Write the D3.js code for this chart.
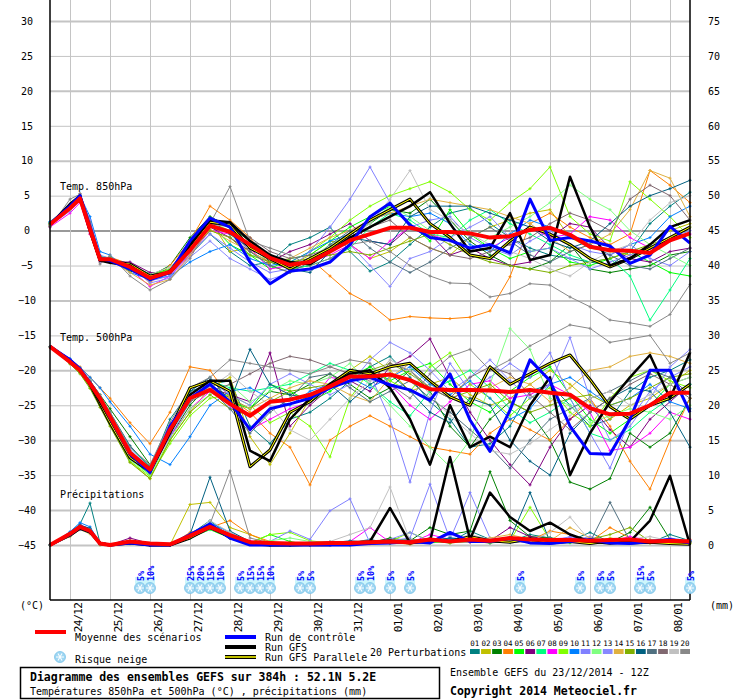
<!DOCTYPE html>
<html>
<head>
<meta charset="utf-8">
<script src="https://cdn.jsdelivr.net/npm/d3@7"></script>
<style>
body { margin: 0; background: #fff; }
svg text { font-family: "DejaVu Sans Mono", monospace; fill: #000; }
</style>
</head>
<body>
<div id="chart"></div>
<script>
// forecast hours from 23/12/2014 12Z
var hours = [0, 12, 18, 24, 30, 36, 48, 60, 72, 84, 96, 108, 120, 132, 144, 156, 168, 180, 192, 204,
    216, 228, 240, 252, 264, 276, 288, 300, 312, 324, 336, 348, 360, 372, 384];
var dayHours = [12, 36, 60, 84, 108, 132, 156, 180, 204, 228, 252, 276, 300, 324, 348, 372];
var dateLabels = ["24/12", "25/12", "26/12", "27/12", "28/12", "29/12", "30/12", "31/12",
    "01/01", "02/01", "03/01", "04/01", "05/01", "06/01", "07/01", "08/01"];
var tempTicks = [30, 25, 20, 15, 10, 5, 0, -5, -10, -15, -20, -25, -30, -35, -40, -45];
var precipTicks = [75, 70, 65, 60, 55, 50, 45, 40, 35, 30, 25, 20, 15, 10, 5, 0];

var pertIds = ["01", "02", "03", "04", "05", "06", "07", "08", "09", "10",
    "11", "12", "13", "14", "15", "16", "17", "18", "19", "20"];
var pertColors = ["#008080", "#c0c000", "#008000", "#ff8000", "#00ff00", "#800080", "#00ff80", "#ff00ff", "#80ff00", "#0080ff",
    "#8080ff", "#80ff80", "#8888ff", "#e0b040", "#80b000", "#006080", "#507080", "#806870", "#c0c0c0", "#888888"];

var mean850 = [0.9, 3.2, 4.6, 0.2, -4.1, -4.1, -5.2, -6.8, -5.9, -2.8, 0.7, -0.2, -2.0, -3.9, -4.9, -4.5, -3.0, -1.4, -0.5, 0.4, 0.4, -0.2, -0.2, -0.4, -1.0, -0.8, 0.1, 0.4, -0.6, -2.3, -2.8, -2.9, -3.2, -1.4, -0.4];
var control850 = [0.9, 3.5, 5.0, 0.5, -4.0, -4.3, -5.5, -7.0, -6.0, -1.5, 1.8, 0.5, -4.5, -7.6, -5.8, -5.5, -4.5, -2.0, 2.0, 3.9, 0.8, -1.0, -1.4, -2.5, -2.0, -3.2, 4.5, -1.4, -1.0, -1.5, -2.2, -4.7, -3.5, 0.6, -1.8];
var gfs850 = [0.9, 3.8, 5.0, 0.0, -4.3, -4.6, -5.0, -7.0, -5.8, -2.0, 1.5, 1.2, -1.5, -3.5, -4.5, -4.8, -3.0, -1.0, 0.5, 2.0, 3.5, 5.5, 1.0, -3.0, -2.5, 2.5, -4.2, -3.5, 7.7, 0.5, -5.0, -4.0, -2.0, 0.5, 1.5];
var gfsPar850 = [0.9, 3.5, 4.8, 0.0, -4.2, -4.4, -4.8, -6.5, -6.0, -2.5, 1.2, 0.8, -2.5, -4.0, -5.5, -4.0, -2.5, -0.5, 1.5, 3.0, 4.5, 1.0, -1.0, -3.5, -4.0, -1.5, 0.5, -0.5, -2.0, -4.0, -5.2, -4.0, -2.5, -1.0, 0.5];
var pert850 = [
    [1.2, 3.0, 4.8, 1.0, -3.8, -4.0, -5.5, -7.2, -6.0, -3.5, -0.5, -3.0, -5.0, -4.5, -2.0, -1.0, 0.5, -3.0, -5.8, -4.5, -2.0, 0.5, 2.5, 3.2, 1.0, -1.0, -2.5, -3.5, -4.0, -4.5, -5.0, -3.0, 1.0, 3.5, 5.5],
    [0.8, 3.5, 4.5, 0.5, -4.3, -4.0, -5.0, -6.5, -5.5, -2.0, 1.5, -3.0, -2.5, -4.0, -5.0, -3.5, -1.5, -2.0, -4.0, -3.0, -1.0, -2.5, -3.5, -1.0, 0.5, 1.5, 2.5, 3.0, -1.0, -2.5, -3.0, -3.5, -2.0, 0.0, 1.0],
    [0.7, 3.0, 4.5, 0.0, -4.0, -4.2, -5.8, -6.5, -5.0, -1.0, 2.0, 0.5, -1.5, -4.5, -5.5, -5.0, -2.5, -0.5, 1.0, 3.0, 2.5, 4.5, 1.5, -1.5, -3.5, -5.0, -5.5, -4.5, -2.0, -5.5, -6.0, -5.5, -5.0, -3.5, -3.0],
    [0.6, 3.0, 4.2, -0.5, -4.5, -3.8, -4.8, -7.5, -5.0, -1.5, 3.5, 1.5, -1.0, -5.0, -6.0, -4.0, -6.5, -9.0, -10.5, -12.8, -12.3, -12.5, -12.6, -12.4, -11.5, -6.6, 1.0, 2.5, 0.5, -1.0, -2.0, -0.5, 8.6, 6.5, 4.0],
    [1.0, 3.6, 5.0, 0.8, -3.7, -3.9, -5.0, -6.2, -5.5, -2.5, 1.0, -2.0, -3.5, -5.5, -4.0, -3.5, -1.5, 0.5, 2.0, 3.5, 1.0, -1.5, 3.0, -0.5, -2.5, -4.0, -3.0, -2.5, -4.5, -5.0, -4.0, -3.0, -4.5, -6.0, -6.5],
    [0.9, 3.1, 4.4, 0.1, -4.0, -4.5, -4.5, -6.0, -6.3, -3.0, 0.5, -1.0, -3.0, -4.5, -3.0, -2.0, -0.5, 1.0, -1.5, -2.0, 0.5, -0.5, -3.5, -2.5, -4.0, -5.0, -4.5, -1.0, 1.0, 0.5, -2.5, -4.0, -4.5, -3.0, -2.5],
    [1.1, 3.3, 4.7, 0.4, -3.9, -3.9, -5.3, -7.0, -5.8, -2.0, 1.8, 0.8, -2.5, -4.0, -5.5, -5.0, -4.0, -2.5, 0.5, 2.5, 1.5, -0.5, -1.0, 1.5, 3.0, 1.0, -0.5, -2.0, -3.5, -4.5, -4.0, -6.5, -12.8, -8.5, -4.0],
    [0.5, 2.5, 4.0, -0.5, -4.4, -4.2, -5.5, -8.0, -6.5, -3.5, 0.0, -0.5, -2.5, -5.5, -5.0, -4.5, -3.5, -2.0, -4.0, -1.5, 0.5, -0.5, -1.5, -3.0, -2.5, -1.0, 0.5, -1.0, -0.5, 2.0, 1.5, -1.0, -2.5, -1.5, -0.5],
    [1.0, 3.4, 4.6, 0.6, -4.1, -4.0, -5.1, -6.6, -6.2, -2.5, 1.2, 0.0, -2.0, -3.5, -4.5, -3.0, -1.0, 1.5, 3.5, 5.0, 6.0, 7.0, 5.5, 3.0, 1.5, 4.0, 6.0, 9.1, 2.0, -0.5, -1.5, 7.0, 4.5, 2.0, -1.0],
    [1.3, 3.5, 5.0, 2.0, -3.0, -3.5, -6.0, -7.0, -6.5, -4.5, -3.0, -2.0, -4.0, -5.0, -4.5, -3.0, -1.5, -0.5, 1.5, 2.5, 2.0, 2.5, 1.0, -2.0, -3.0, -0.5, 1.5, 0.5, -1.0, -2.0, -3.5, -2.0, -1.0, 2.0, 3.5],
    [0.8, 3.8, 5.2, 1.5, -3.5, -4.0, -4.8, -7.2, -6.5, -3.2, -0.5, -2.5, -4.5, -6.0, -5.5, -3.0, 0.5, 4.5, 9.1, 4.0, 0.5, 1.5, 2.0, -1.0, -2.5, -3.5, -1.5, 0.0, -2.0, -3.0, -3.5, -2.0, -4.0, -5.0, -3.0],
    [1.0, 3.1, 4.5, 0.3, -4.0, -4.1, -5.4, -6.9, -5.4, -2.2, 1.0, -0.5, -3.5, -4.0, -5.0, -4.0, -2.0, -0.5, 1.0, 3.5, 2.0, 0.0, -1.5, -3.0, -1.0, 0.5, 2.0, 4.0, 6.5, 4.5, 3.0, 0.0, -2.0, -3.5, -5.0],
    [0.7, 2.8, 4.3, -0.3, -4.5, -4.3, -5.0, -7.5, -6.8, -3.8, -1.5, -4.0, -5.5, -7.0, -6.0, -5.5, -4.5, -2.0, -5.0, -8.0, -4.0, -3.0, -1.0, 0.5, 2.0, -1.0, -3.0, -2.5, -4.0, -5.5, -4.5, -3.5, -2.5, -1.0, 0.0],
    [0.9, 3.2, 4.6, 0.2, -4.2, -4.2, -6.0, -7.8, -7.0, -3.5, 0.2, -1.5, -3.0, -4.5, -4.0, -2.5, -1.0, 0.0, 1.5, 2.5, 3.5, 4.5, 4.0, 3.5, 3.0, 2.0, 1.0, -1.0, -3.0, -2.0, -0.5, 3.0, 8.6, 7.5, 2.0],
    [0.8, 3.0, 4.4, 0.0, -4.1, -4.3, -5.3, -6.4, -5.6, -3.0, 0.0, -1.0, -3.5, -4.5, -4.5, -4.0, -3.5, -3.0, -3.5, -2.5, -1.5, -0.5, -2.0, -3.5, -4.5, -5.0, -5.5, -6.0, -5.0, -4.5, -4.0, -3.0, -2.0, -1.0, 0.5],
    [1.1, 3.4, 4.9, 0.6, -3.9, -4.0, -5.0, -6.8, -5.7, -1.8, 1.5, -0.5, -2.5, -3.5, -5.5, -6.0, -3.0, -1.0, -1.5, -2.0, 2.0, 3.5, 3.5, 3.5, 2.5, 1.5, 0.5, -1.5, -2.5, -1.5, 1.0, 3.5, 5.0, 6.0, 7.2],
    [1.0, 3.3, 4.7, 0.4, -4.0, -4.1, -5.6, -7.1, -6.1, -2.6, 0.8, 0.0, -3.0, -5.0, -6.0, -4.5, -2.0, 0.0, -2.5, -4.5, -6.0, -4.5, -2.5, -1.0, 0.5, -1.5, -3.5, -4.5, -3.0, -2.0, -3.5, -5.0, -5.5, -4.0, -2.5],
    [0.6, 3.6, 5.3, 1.2, -3.6, -4.6, -5.2, -6.7, -6.0, -2.4, 1.0, 0.5, -1.0, -3.0, -4.0, -3.5, -2.5, -1.0, 0.5, 1.5, -1.0, -2.5, -3.5, -4.0, -3.0, -2.0, -1.0, 1.0, 2.5, 1.5, 0.0, 4.5, 6.5, 5.0, 1.5],
    [0.7, 3.0, 4.5, 0.1, -4.2, -4.1, -5.1, -6.3, -5.2, -2.5, 0.6, 1.0, -1.5, -4.0, -5.0, -4.0, -2.5, -1.0, 1.0, 4.5, 8.6, 3.0, 1.5, -0.5, -2.0, -3.0, -4.0, -5.5, -6.5, -4.5, -3.0, -2.0, 1.5, 4.0, 5.0],
    [0.5, 4.5, 5.2, 0.8, -4.8, -3.5, -6.5, -8.5, -7.0, -4.0, 1.0, 6.3, -1.5, -2.5, -3.5, -5.0, -4.0, -2.0, -1.5, -3.0, -5.0, -6.5, -7.5, -7.6, -9.5, -9.0, -7.6, -7.8, -9.5, -10.9, -12.8, -13.2, -13.7, -12.0, -7.7]
];

var mean500 = [-16.6, -18.8, -20.0, -21.9, -24.0, -26.6, -31.8, -34.2, -28.5, -24.0, -22.8, -24.8, -26.5, -24.5, -24.2, -23.5, -22.3, -20.9, -20.9, -20.6, -21.4, -22.7, -22.8, -22.8, -22.9, -23.1, -22.8, -23.2, -23.5, -25.4, -26.3, -26.2, -25.0, -23.2, -23.2];
var control500 = [-16.6, -18.5, -19.8, -21.8, -24.0, -26.8, -32.0, -34.6, -28.0, -24.0, -22.0, -24.5, -28.5, -25.5, -24.8, -24.0, -22.5, -21.5, -21.0, -22.1, -22.8, -24.3, -20.5, -27.1, -31.6, -25.7, -18.5, -21.5, -28.0, -31.9, -32.0, -27.0, -20.0, -20.0, -26.0];
var gfs500 = [-16.6, -18.8, -20.0, -22.0, -24.5, -27.0, -32.0, -34.5, -29.0, -23.5, -21.5, -21.5, -31.5, -33.0, -27.0, -24.0, -22.0, -20.5, -20.0, -22.5, -27.0, -33.5, -25.0, -31.0, -29.5, -31.0, -25.0, -21.0, -35.0, -29.0, -24.5, -21.0, -17.8, -24.0, -17.5];
var gfsPar500 = [-16.6, -18.6, -20.0, -22.0, -24.8, -27.5, -32.5, -34.5, -28.5, -22.5, -21.5, -23.0, -33.8, -31.4, -26.0, -24.5, -22.0, -20.0, -20.5, -19.5, -19.0, -21.5, -23.8, -25.0, -19.5, -22.0, -20.5, -19.0, -17.8, -21.3, -25.2, -27.0, -25.0, -24.0, -22.0];
var pert500 = [
    [-16.6, -19.0, -20.3, -22.0, -24.5, -27.0, -32.5, -34.0, -27.0, -23.0, -22.0, -21.5, -28.0, -30.5, -27.0, -26.0, -24.0, -21.5, -19.5, -18.0, -21.0, -24.5, -27.0, -31.0, -30.5, -28.0, -23.0, -22.0, -25.0, -28.0, -27.0, -23.0, -21.0, -20.0, -18.5],
    [-16.6, -18.7, -20.1, -22.3, -25.0, -27.5, -33.0, -35.5, -30.0, -26.0, -22.5, -21.0, -29.5, -33.5, -29.0, -24.0, -22.0, -20.0, -18.0, -20.0, -23.0, -22.0, -21.0, -23.5, -25.0, -24.0, -22.0, -20.0, -22.0, -24.5, -27.0, -25.0, -24.0, -22.0, -20.0],
    [-16.6, -18.9, -20.0, -21.5, -23.5, -25.5, -29.5, -33.5, -29.5, -25.0, -22.0, -24.0, -25.5, -23.0, -23.5, -22.0, -20.5, -22.0, -24.0, -22.5, -20.0, -23.0, -28.0, -31.0, -27.0, -24.5, -26.0, -30.0, -36.0, -37.0, -35.5, -29.0, -31.0, -29.0, -24.0],
    [-16.6, -18.4, -19.5, -21.0, -22.5, -24.0, -27.5, -30.5, -26.0, -19.5, -20.0, -24.0, -26.0, -29.0, -31.0, -36.4, -30.0, -28.0, -26.5, -28.0, -29.5, -31.0, -31.5, -32.0, -29.0, -27.0, -28.5, -30.0, -27.0, -24.0, -28.0, -33.0, -37.0, -30.0, -24.0],
    [-16.6, -18.8, -20.2, -22.2, -24.5, -27.2, -32.5, -35.0, -29.0, -24.5, -22.0, -24.5, -25.5, -22.0, -23.0, -24.5, -23.0, -21.0, -19.5, -21.5, -20.0, -19.0, -22.0, -24.5, -26.0, -23.0, -21.0, -19.5, -23.5, -27.0, -29.0, -27.0, -25.0, -22.0, -21.0],
    [-16.6, -18.9, -20.0, -22.0, -24.2, -26.8, -31.5, -34.0, -28.0, -24.0, -22.5, -23.5, -24.5, -17.5, -28.0, -25.0, -22.5, -21.5, -23.0, -19.5, -18.0, -15.5, -21.0, -26.0, -30.0, -33.5, -36.4, -31.0, -27.0, -25.0, -28.5, -31.0, -27.0, -24.5, -22.0],
    [-16.6, -18.6, -19.9, -21.7, -23.8, -26.4, -31.0, -33.8, -28.5, -23.5, -21.5, -22.5, -23.0, -22.5, -22.0, -20.5, -19.0, -20.0, -22.0, -24.5, -26.5, -23.0, -21.5, -20.0, -22.5, -25.5, -27.5, -26.0, -24.0, -29.0, -30.0, -28.5, -26.0, -24.0, -22.0],
    [-16.6, -18.8, -20.1, -22.1, -24.3, -26.9, -32.0, -34.6, -29.5, -25.5, -23.0, -25.0, -28.5, -27.0, -25.5, -24.5, -21.0, -21.5, -20.5, -22.0, -25.0, -27.0, -24.5, -22.0, -21.5, -24.0, -23.5, -22.0, -23.5, -26.0, -31.5, -31.0, -29.0, -26.0, -27.0],
    [-16.6, -19.0, -20.4, -22.5, -25.0, -27.8, -33.0, -35.2, -30.5, -26.5, -24.0, -23.5, -25.0, -27.5, -26.0, -28.0, -32.4, -24.0, -20.0, -21.5, -23.0, -19.5, -17.5, -22.0, -24.0, -26.5, -24.0, -22.5, -26.0, -28.0, -24.0, -21.0, -20.0, -21.5, -22.5],
    [-16.6, -18.3, -19.6, -21.0, -22.5, -24.5, -28.0, -32.0, -33.5, -29.5, -25.0, -23.0, -22.5, -24.0, -25.0, -23.0, -22.0, -21.0, -22.5, -21.0, -19.5, -22.0, -23.5, -21.5, -24.0, -27.0, -25.5, -22.0, -21.0, -23.0, -25.0, -24.0, -22.0, -24.5, -25.5],
    [-16.6, -18.7, -20.0, -21.9, -24.1, -26.7, -31.9, -34.3, -28.6, -24.1, -22.9, -25.0, -26.6, -24.6, -24.3, -23.6, -22.4, -21.0, -20.5, -27.0, -36.0, -26.0, -19.0, -23.0, -21.0, -19.0, -21.0, -17.5, -24.0, -29.0, -34.0, -27.0, -23.0, -21.0, -19.5],
    [-16.6, -18.9, -20.3, -22.4, -24.8, -27.6, -32.8, -35.0, -29.8, -25.5, -23.5, -22.0, -24.5, -23.0, -21.5, -22.0, -21.0, -19.0, -22.0, -25.0, -28.0, -31.0, -33.8, -30.0, -22.0, -14.0, -17.0, -24.0, -25.0, -27.5, -26.5, -25.5, -26.0, -27.0, -25.0],
    [-16.6, -18.5, -19.8, -21.6, -23.7, -26.2, -31.2, -34.0, -29.5, -24.5, -21.5, -23.5, -25.0, -22.0, -20.5, -22.0, -23.5, -22.0, -18.5, -16.0, -17.5, -20.0, -23.0, -21.0, -18.5, -21.5, -24.0, -22.0, -15.3, -24.0, -30.0, -28.0, -24.0, -19.5, -17.0],
    [-16.6, -18.8, -19.9, -21.8, -24.0, -26.5, -31.5, -34.4, -28.8, -23.8, -22.6, -24.0, -25.5, -24.0, -22.5, -21.5, -22.0, -23.5, -24.5, -21.0, -19.0, -21.5, -23.0, -24.0, -22.5, -21.0, -22.0, -24.5, -22.5, -20.0, -19.5, -18.0, -17.5, -18.0, -19.0],
    [-16.6, -19.1, -20.5, -22.6, -25.3, -28.0, -33.2, -35.5, -30.0, -26.0, -23.5, -25.5, -26.5, -24.5, -23.0, -22.5, -22.0, -21.5, -20.0, -19.0, -20.5, -22.5, -24.0, -23.0, -22.0, -24.5, -26.0, -25.0, -24.0, -23.5, -25.0, -24.0, -22.5, -21.0, -20.5],
    [-16.6, -18.6, -19.8, -21.6, -23.8, -26.0, -30.8, -33.8, -28.0, -23.0, -21.0, -24.5, -17.0, -22.0, -23.5, -24.0, -22.0, -24.5, -22.0, -20.5, -23.0, -26.0, -27.5, -24.0, -25.0, -30.0, -33.0, -35.0, -29.0, -26.0, -24.0, -22.5, -23.0, -26.0, -31.0],
    [-16.6, -18.7, -20.0, -21.9, -24.0, -26.6, -31.8, -34.1, -28.4, -23.9, -22.7, -25.5, -29.0, -26.0, -24.0, -21.0, -20.5, -22.5, -24.5, -23.0, -21.5, -24.0, -26.0, -28.5, -31.0, -34.0, -30.0, -27.0, -25.5, -24.0, -23.0, -21.5, -20.0, -21.0, -23.5],
    [-16.6, -18.9, -20.2, -22.2, -24.5, -27.0, -32.2, -34.8, -29.0, -24.5, -23.0, -22.0, -20.5, -19.0, -18.0, -18.5, -19.5, -20.5, -21.5, -19.0, -20.0, -22.5, -24.0, -21.0, -19.5, -20.5, -23.5, -26.0, -28.5, -26.0, -24.0, -22.0, -20.5, -22.0, -24.0],
    [-16.6, -18.8, -20.0, -21.8, -23.9, -26.5, -31.6, -34.0, -28.5, -23.8, -22.5, -20.5, -23.0, -25.0, -28.5, -30.0, -27.0, -24.0, -21.5, -18.5, -20.0, -23.5, -26.5, -29.0, -31.5, -32.0, -30.5, -28.5, -26.5, -24.0, -23.0, -25.0, -23.5, -22.0, -21.0],
    [-16.6, -18.6, -19.7, -21.5, -23.5, -26.0, -31.0, -33.5, -27.5, -22.5, -21.0, -18.5, -19.0, -19.5, -20.0, -20.5, -19.5, -18.5, -19.0, -22.0, -24.0, -20.5, -18.0, -17.0, -20.0, -18.5, -16.5, -15.0, -13.5, -14.0, -16.0, -15.5, -15.0, -19.0, -17.5]
];

// precipitation in mm (right axis)
var meanPrecip = [0, 1.6, 2.6, 2.0, 0.2, 0, 0.5, 0.2, 0.1, 1.3, 2.6, 1.4, 0.4, 0.3, 0.2, 0.2, 0.3, 0.3, 0.4, 0.5, 0.4, 0.8, 0.5, 0.8, 0.6, 1.0, 0.8, 0.7, 0.7, 0.6, 0.7, 0.8, 0.5, 0.6, 0.5];
var controlPrecip = [0, 1.5, 2.6, 2.0, 0.2, 0, 0.3, 0, 0, 1.5, 3.0, 1.0, 0, 0, 0, 0, 0, 0, 0.2, 0.3, 0.5, 0.3, 1.8, 0.5, 0.5, 1.0, 0.3, 0.2, 0.5, 0.8, 0.3, 0.2, 0.5, 0.8, 0.3];
var gfsPrecip = [0, 1.5, 2.5, 1.8, 0.3, 0, 0.4, 0, 0, 1.2, 2.8, 1.0, 0.2, 0, 0, 0, 0, 0.3, 0.5, 5.3, 0.3, 0.5, 12.6, 0.8, 7.5, 4.0, 2.0, 3.2, 1.5, 0.5, 0.2, 0.5, 3.5, 9.9, 0];
var gfsParPrecip = [0, 1.4, 2.4, 1.9, 0.2, 0, 0.3, 0, 0, 1.0, 2.5, 1.2, 0.2, 0, 0, 0.1, 0.2, 0.1, 0.4, 0.6, 0.3, 0.8, 0.5, 1.2, 0.6, 0.4, 0.9, 0.3, 0.5, 0.2, 0.6, 0.3, 0.4, 0.2, 0.1];
var pertPrecip = [
    [0, 1.8, 3.0, 6.0, 0.3, 0, 0.4, 0.1, 0, 1.5, 3.5, 1.2, 0.3, 0, 0, 0.2, 0.5, 0.3, 0.8, 0.2, 0.5, 1.0, 0.4, 2.0, 0.8, 0.5, 1.5, 1.0, 0.6, 1.8, 0.4, 0.8, 0.3, 1.5, 0.6],
    [0, 1.2, 2.2, 1.6, 0, 0, 0.2, 0, 0, 5.8, 6.1, 2.5, 1.5, 0.3, 0, 0, 0.1, 0, 0.3, 0.2, 0.8, 0.4, 1.0, 0.5, 0.3, 0.8, 1.2, 0.5, 0.4, 0.3, 1.0, 0.6, 0.3, 0.5, 0.2],
    [0, 1.5, 2.8, 2.2, 0.1, 0, 0.6, 0, 0, 1.2, 2.8, 1.0, 0.2, 0, 0.1, 0, 0.2, 0.5, 0.3, 1.0, 0.6, 2.5, 1.5, 2.0, 10.5, 3.5, 1.2, 1.0, 0.8, 0.5, 0.4, 1.8, 5.4, 0.8, 0.5],
    [0, 1.3, 2.4, 1.9, 0.2, 0, 0.3, 0, 0, 1.8, 2.5, 3.5, 1.5, 0.5, 0, 0, 0.3, 0.5, 0.2, 0.4, 0.1, 0.6, 0.3, 0.8, 0.5, 1.0, 0.6, 2.0, 1.5, 0.5, 2.5, 1.0, 0.4, 0.6, 0.8],
    [0, 1.6, 2.5, 2.0, 0.2, 0, 0.5, 0.2, 0, 1.0, 2.2, 1.0, 0.3, 1.5, 0.5, 0, 0.2, 0, 0.3, 0.5, 0.8, 0.3, 0.5, 0.6, 0.3, 0.5, 0.4, 0.6, 1.0, 0.4, 0.3, 0.7, 0.5, 0.4, 0.3],
    [0, 1.7, 2.9, 2.3, 0.3, 0, 1.0, 0.2, 0, 1.3, 2.7, 1.3, 0.4, 0.2, 0, 0.1, 0, 0.3, 0.2, 0.6, 0.4, 0.5, 0.8, 1.0, 0.6, 2.5, 1.2, 0.8, 0.5, 0.4, 0.6, 0.3, 0.5, 0.7, 0.4],
    [0, 1.4, 2.3, 1.8, 0.1, 0, 0.3, 0, 0, 1.4, 3.0, 1.5, 0.5, 0, 0.2, 0, 0.1, 0.2, 0.3, 0.4, 0.6, 0.5, 0.3, 0.8, 0.5, 0.4, 0.6, 0.5, 0.3, 0.8, 0.6, 0.5, 0.4, 0.6, 0.5],
    [0, 1.5, 2.6, 2.1, 0.2, 0, 0.4, 0, 0, 1.1, 2.6, 1.4, 0.6, 0.3, 0, 0, 0.2, 0.5, 2.5, 0.4, 0.3, 1.5, 0.8, 0.4, 0.6, 0.5, 0.4, 0.9, 1.0, 0.6, 0.5, 1.2, 0.6, 0.4, 0.7],
    [0, 1.6, 2.7, 2.2, 0.2, 0, 0.2, 0, 0, 1.0, 2.4, 1.2, 0.3, 1.5, 1.8, 0.6, 0.3, 0.2, 0.4, 0.5, 1.8, 0.6, 0.3, 0.5, 0.8, 0.6, 5.4, 0.7, 0.5, 0.6, 0.4, 0.5, 0.3, 0.4, 0.5],
    [0, 1.9, 3.2, 2.6, 0.3, 0, 0.3, 0, 0, 1.6, 3.2, 1.8, 0.5, 0.2, 0, 0, 0.2, 0.3, 0.5, 0.3, 0.4, 0.6, 1.0, 0.8, 0.5, 0.4, 0.6, 0.8, 0.5, 0.3, 0.5, 0.6, 0.4, 0.8, 0.6],
    [0, 1.6, 2.6, 2.0, 0.2, 0, 0.3, 0, 0, 1.2, 2.5, 1.5, 0.3, 0.5, 2.0, 0.8, 4.9, 6.6, 0.3, 0.6, 1.0, 8.7, 0.8, 7.5, 1.0, 0.6, 0.8, 0.5, 1.2, 0.6, 0.8, 0.5, 0.4, 1.0, 0.6],
    [0, 1.5, 2.5, 1.9, 0.2, 0, 0.2, 0, 0, 1.1, 2.3, 1.1, 0.3, 0.6, 1.0, 0.5, 0.2, 0.1, 0.3, 0.4, 0.3, 0.5, 0.4, 0.6, 0.5, 0.8, 0.6, 0.4, 0.5, 1.0, 0.5, 0.4, 0.6, 0.3, 0.4],
    [0, 1.3, 2.2, 1.7, 0.1, 0, 0.3, 0, 0, 1.0, 2.3, 1.2, 0.3, 0.2, 0, 0.4, 0.3, 0.5, 0.4, 0.8, 1.8, 0.5, 1.5, 0.6, 0.4, 0.6, 0.5, 0.8, 0.6, 1.2, 0.4, 0.8, 0.5, 0.6, 0.4],
    [0, 1.4, 2.4, 1.9, 0.2, 0, 0.5, 0.1, 0, 1.3, 2.6, 1.3, 0.4, 0.3, 0, 0, 0.3, 0.4, 0.6, 0.3, 0.5, 0.8, 0.6, 0.5, 1.0, 1.5, 0.8, 0.6, 2.5, 1.0, 0.6, 0.5, 0.8, 0.4, 0.3],
    [0, 1.5, 2.5, 2.0, 0.2, 0, 0.3, 0, 0, 1.2, 2.4, 1.0, 0.2, 0, 0, 0, 0.2, 0.3, 0.4, 0.3, 0.5, 0.4, 0.6, 0.5, 0.4, 0.7, 0.5, 0.6, 0.4, 0.8, 1.5, 2.5, 0.5, 0.6, 0.4],
    [0, 1.7, 2.8, 2.4, 0.3, 0, 0.4, 0, 0, 1.5, 9.7, 2.0, 0.5, 0.2, 0, 0, 0.3, 0.6, 0.4, 0.5, 0.7, 0.6, 1.0, 0.8, 0.6, 0.8, 7.5, 0.5, 0.7, 0.6, 0.5, 0.8, 0.6, 0.4, 0.5],
    [0, 1.6, 2.7, 2.1, 0.2, 0, 0.3, 0, 0, 1.3, 2.9, 1.6, 0.4, 0.3, 0, 0, 0.2, 0.3, 0.6, 0.4, 0.5, 0.6, 0.4, 0.5, 0.3, 0.6, 0.8, 1.0, 0.5, 0.4, 6.1, 0.6, 0.5, 0.3, 0.4],
    [0, 1.4, 2.3, 1.8, 0.1, 0, 0.3, 0, 0, 1.1, 2.5, 1.3, 0.3, 0.1, 0, 0, 0.2, 0.4, 0.3, 0.5, 0.4, 0.6, 0.5, 0.4, 0.6, 0.5, 0.7, 0.6, 0.5, 0.8, 0.6, 0.5, 0.7, 0.5, 0.4],
    [0, 1.5, 2.6, 2.0, 0.2, 0, 0.3, 0, 0, 1.2, 3.5, 1.8, 0.4, 0.2, 0, 0, 0.5, 1.5, 2.5, 8.3, 0.6, 0.8, 0.5, 1.5, 0.8, 0.6, 0.5, 1.8, 4.0, 0.6, 0.5, 0.8, 1.2, 0.6, 0.4],
    [0, 1.6, 2.7, 2.2, 0.2, 0, 0.4, 0, 0, 1.4, 3.0, 10.6, 1.0, 0.3, 0, 0, 0.2, 0.4, 0.6, 0.5, 0.8, 0.6, 0.5, 0.8, 0.6, 0.5, 0.7, 0.6, 0.5, 0.8, 0.6, 0.5, 0.4, 0.6, 0.5]
];

// snow risk (forecast hour, % of members)
var snowHours = [54, 60, 84, 90, 96, 102, 114, 120, 126, 132, 150, 156, 186, 192, 204, 216, 282, 318, 330, 336, 354, 360, 384];
var snowPct = [5, 10, 25, 20, 15, 10, 5, 15, 15, 10, 5, 5, 5, 10, 5, 5, 5, 5, 5, 5, 15, 5, 5];

function drawEnsemble() {
    var svg = d3.select('#chart')
        .append('svg')
        .attr('width', 740)
        .attr('height', 700);

    var x = d3.scaleLinear().domain([0, 384]).range([50, 690]);
    var yTemp = d3.scaleLinear().domain([-45, 30]).range([545, 21]);
    var yPrecip = d3.scaleLinear().domain([0, 75]).range([545, 21]);

    // horizontal grid
    svg.append('g')
        .attr('transform', 'translate(50,0)')
        .call(d3.axisLeft(yTemp).tickValues(tempTicks).tickSize(-640).tickFormat(''))
        .call(g => g.select('.domain').remove())
        .selectAll('line')
        .attr('stroke', d => d === 0 ? '#999999' : '#c4c4c4')
        .attr('stroke-width', d => (d % 10 === 0 || d === -45) ? 2 : 1);

    // vertical grid, one line per day
    svg.append('g')
        .attr('transform', 'translate(0,600)')
        .call(d3.axisBottom(x).tickValues(dayHours).tickSize(-600).tickFormat(''))
        .call(g => g.select('.domain').remove())
        .selectAll('line')
        .attr('stroke', '#c4c4c4');

    // axis labels
    svg.append('g')
        .attr('transform', 'translate(27,0)')
        .call(d3.axisLeft(yTemp).tickValues(tempTicks).tickSize(0).tickPadding(0))
        .call(g => g.select('.domain').remove())
        .attr('font-family', 'DejaVu Sans Mono')
        .attr('font-size', 10)
        .selectAll('text')
        .attr('text-anchor', 'middle')
        .attr('x', 0);

    svg.append('g')
        .attr('transform', 'translate(708,0)')
        .call(d3.axisRight(yPrecip).tickValues(precipTicks).tickSize(0).tickPadding(0))
        .call(g => g.select('.domain').remove())
        .attr('font-family', 'DejaVu Sans Mono')
        .attr('font-size', 10)
        .selectAll('text')
        .attr('x', 0);

    svg.append('g')
        .attr('transform', 'translate(0,600)')
        .call(d3.axisBottom(x).tickValues(dayHours).tickSize(0).tickFormat((d, i) => dateLabels[i]))
        .call(g => g.select('.domain').remove())
        .attr('font-family', 'DejaVu Sans Mono')
        .attr('font-size', 11)
        .selectAll('text')
        .attr('transform', 'rotate(-90)')
        .attr('text-anchor', 'end')
        .attr('letter-spacing', -0.8)
        .attr('x', -3)
        .attr('y', 11)
        .attr('dy', 0);

    svg.append('text').attr('x', 20).attr('y', 609).attr('font-size', 10).text('(°C)');
    svg.append('text').attr('x', 710).attr('y', 609).attr('font-size', 10).text('(mm)');
    svg.append('text').attr('x', 60).attr('y', 190).attr('font-size', 10).text('Temp. 850hPa');
    svg.append('text').attr('x', 60).attr('y', 341).attr('font-size', 10).text('Temp. 500hPa');
    svg.append('text').attr('x', 60).attr('y', 498).attr('font-size', 10).text('Précipitations');

    function lineFor(yScale) {
        return d3.line()
            .x((d, i) => x(hours[i]))
            .y(d => yScale(d));
    }

    var plots = svg.append('g').attr('fill', 'none').attr('stroke-linejoin', 'round');

    function drawPerts(sets, yScale) {
        sets.forEach(function (vals, p) {
            vals = vals.slice(0, hours.length);
            plots.append('path')
                .attr('d', lineFor(yScale)(vals))
                .attr('stroke', pertColors[p])
                .attr('stroke-width', 1);
            plots.append('g').selectAll('path')
                .data(vals)
                .enter()
                .append('path')
                .attr('transform', (d, i) => `translate(${x(hours[i])},${yScale(d)})`)
                .attr('d', 'M-1.5,0H1.5M0,-1.5V1.5')
                .attr('stroke', pertColors[p]);
        });
    }
    drawPerts(pert850, yTemp);
    drawPerts(pert500, yTemp);
    drawPerts(pertPrecip, yPrecip);

    function drawRun(vals, yScale, color, width) {
        plots.append('path')
            .attr('d', lineFor(yScale)(vals.slice(0, hours.length)))
            .attr('stroke', color)
            .attr('stroke-width', width);
    }
    // GFS parallel: yellow with black border
    [gfsPar850, gfsPar500].forEach(v => { drawRun(v, yTemp, '#000', 3); drawRun(v, yTemp, '#ffff00', 1); });
    drawRun(gfsParPrecip, yPrecip, '#000', 3);
    drawRun(gfsParPrecip, yPrecip, '#ffff00', 1);

    drawRun(gfs850, yTemp, '#000', 2.5);
    drawRun(gfs500, yTemp, '#000', 2.5);
    drawRun(gfsPrecip, yPrecip, '#000', 2.5);

    drawRun(control850, yTemp, '#0000ff', 3);
    drawRun(control500, yTemp, '#0000ff', 3);
    drawRun(controlPrecip, yPrecip, '#0000ff', 3);

    drawRun(mean850, yTemp, '#ff0000', 4);
    drawRun(mean500, yTemp, '#ff0000', 4);
    drawRun(meanPrecip, yPrecip, '#ff0000', 4);

    // frame
    var frame = svg.append('g').attr('stroke', '#000').attr('stroke-width', 1.5);
    frame.append('line').attr('x1', x(0)).attr('x2', x(0)).attr('y1', 0).attr('y2', 600);
    frame.append('line').attr('x1', x(384)).attr('x2', x(384)).attr('y1', 0).attr('y2', 600);
    frame.append('line').attr('x1', x(0)).attr('x2', x(384)).attr('y1', 600).attr('y2', 600);

    function snowflake(g) {
        g.append('circle').attr('r', 5.5).attr('fill', '#9ed6f2').attr('stroke', '#7cc4ea').attr('stroke-width', 0.8);
        [0, 60, 120].forEach(function (a) {
            g.append('line')
                .attr('x1', -4).attr('x2', 4).attr('y1', 0).attr('y2', 0)
                .attr('transform', 'rotate(' + a + ')')
                .attr('stroke', '#fff').attr('stroke-width', 1);
        });
    }

    // snow risk markers
    var snow = svg.append('g').selectAll('g')
        .data(snowHours)
        .enter()
        .append('g')
        .attr('transform', d => `translate(${x(d)},0)`);
    snow.append('rect').attr('x', -5).attr('y', 577).attr('width', 10).attr('height', 7).attr('fill', '#ccf6fc');
    snow.append('g').attr('transform', 'translate(0,588)').each(function () { snowflake(d3.select(this)); });
    snow.append('text')
        .attr('transform', 'translate(4,581) rotate(-90)')
        .attr('font-size', 8.5)
        .attr('font-weight', 'bold')
        .style('fill', '#0000ff')
        .text((d, i) => snowPct[i] + '%');

    // legend
    var legend = svg.append('g').attr('font-size', 10);
    legend.append('line').attr('x1', 35).attr('x2', 66).attr('y1', 632).attr('y2', 632).attr('stroke', '#ff0000').attr('stroke-width', 4);
    legend.append('text').attr('x', 75).attr('y', 641).text('Moyenne des scénarios');
    snowflake(legend.append('g').attr('transform', 'translate(60,657)'));
    legend.append('text').attr('x', 75).attr('y', 663).text('Risque neige');

    legend.append('line').attr('x1', 225).attr('x2', 256).attr('y1', 637).attr('y2', 637).attr('stroke', '#0000ff').attr('stroke-width', 4);
    legend.append('text').attr('x', 265).attr('y', 641).text('Run de contrôle');
    legend.append('line').attr('x1', 225).attr('x2', 256).attr('y1', 647).attr('y2', 647).attr('stroke', '#000').attr('stroke-width', 4);
    legend.append('text').attr('x', 265).attr('y', 651).text('Run GFS');
    legend.append('line').attr('x1', 225).attr('x2', 256).attr('y1', 657).attr('y2', 657).attr('stroke', '#000').attr('stroke-width', 4);
    legend.append('line').attr('x1', 225).attr('x2', 256).attr('y1', 657).attr('y2', 657).attr('stroke', '#ffff00').attr('stroke-width', 1.5);
    legend.append('text').attr('x', 265).attr('y', 661).text('Run GFS Parallele');
    legend.append('text').attr('x', 370).attr('y', 656).text('20 Perturbations');

    var swatch = d3.scaleBand().domain(pertIds).range([470, 690]).paddingInner(0.12);
    var sw = legend.append('g').selectAll('g')
        .data(pertIds)
        .enter()
        .append('g')
        .attr('transform', d => `translate(${swatch(d)},0)`);
    sw.append('rect').attr('y', 649).attr('width', swatch.bandwidth()).attr('height', 5).attr('fill', (d, i) => pertColors[i]);
    sw.append('text').attr('x', swatch.bandwidth() / 2).attr('y', 646).attr('text-anchor', 'middle')
        .attr('font-size', 7.5).text(d => d);

    // title box
    svg.append('rect').attr('x', 20.5).attr('y', 667.5).attr('width', 419).attr('height', 31)
        .attr('fill', 'none').attr('stroke', '#000').attr('stroke-width', 1.5);
    svg.append('text').attr('x', 30).attr('y', 681).attr('font-size', 11.5).attr('font-weight', 'bold')
        .text('Diagramme des ensembles GEFS sur 384h : 52.1N 5.2E');
    svg.append('text').attr('x', 30).attr('y', 695).attr('font-size', 10)
        .text('Températures 850hPa et 500hPa (°C) , précipitations (mm)');
    svg.append('text').attr('x', 450).attr('y', 676).attr('font-size', 10)
        .text('Ensemble GEFS du 23/12/2014 - 12Z');
    svg.append('text').attr('x', 450).attr('y', 695).attr('font-size', 11.5).attr('font-weight', 'bold')
        .text('Copyright 2014 Meteociel.fr');
}

drawEnsemble();
</script>
</body>
</html>
